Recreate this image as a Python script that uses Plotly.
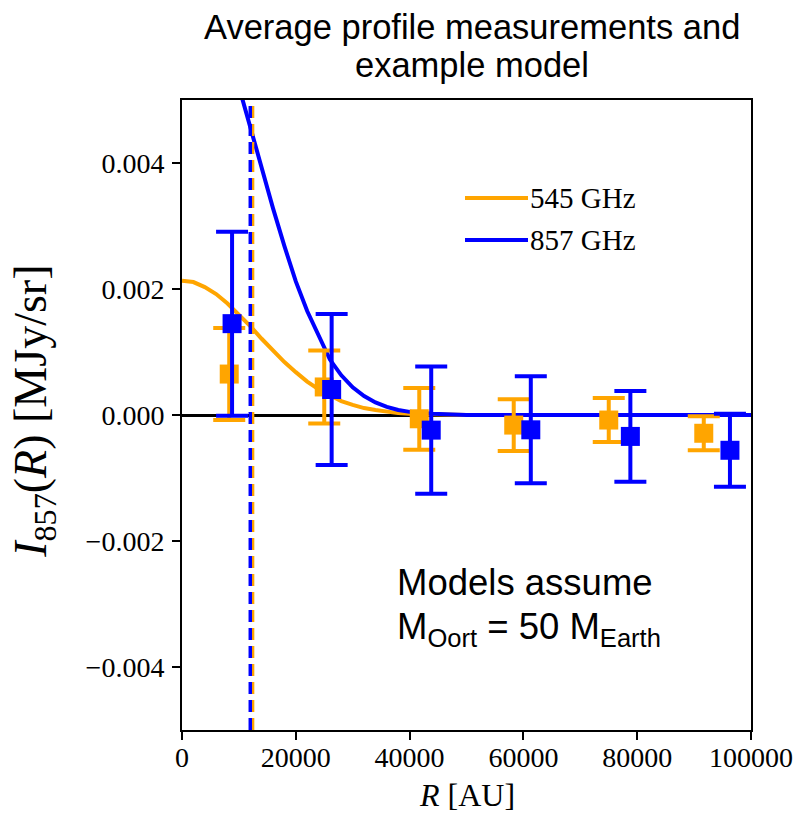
import plotly.graph_objects as go

# ---- data ----
R_545 = [8300, 25000, 41700, 58300, 75000, 91700]
I_545 = [0.00065, 0.000445, -0.00006, -0.00016, -0.00008, -0.00029]
E_545 = [0.00073, 0.00058, 0.00049, 0.00041, 0.00035, 0.00027]

R_857 = [8800, 26300, 43800, 61300, 78800, 96300]
I_857 = [0.00145, 0.000405, -0.00024, -0.000235, -0.00034, -0.00056]
E_857 = [0.00146, 0.00120, 0.00101, 0.00085, 0.00072, 0.00058]

R_model = [0, 2000, 4000, 6000, 8000, 10000, 12000, 14000, 16000, 18000, 20000,
           22000, 24000, 26000, 28000, 30000, 32000, 34000, 36000, 38000, 40000,
           44000, 50000, 100000]
M_545 = [0.00213, 0.00211, 0.00203, 0.00192, 0.00177, 0.00160, 0.00141, 0.00121,
         0.00102, 0.00084, 0.00068, 0.00053, 0.00041, 0.00031, 0.00022, 0.00016,
         0.00011, 0.00008, 0.00005, 0.00003, 0.00002, 0.00001, 0.0, 0.0]
M_857 = [0.00700, 0.00692, 0.00668, 0.00629, 0.00579, 0.00521, 0.00457, 0.00392,
         0.00328, 0.00268, 0.00212, 0.00165, 0.00125, 0.00088, 0.00063, 0.00044,
         0.00030, 0.00020, 0.00013, 0.00008, 0.00005, 0.00002, 0.0, 0.0]

R_vline_545 = 12400
R_vline_857 = 12000
Y_RANGE = [-0.005, 0.005]
X_RANGE = [0, 100000]
x_ticks = [0, 20000, 40000, 60000, 80000, 100000]
y_ticks = [-0.004, -0.002, 0.0, 0.002, 0.004]

ORANGE = "#FFA500"
BLUE = "#0000FF"
SERIF = "Liberation Serif, DejaVu Serif, serif"
SANS = "Liberation Sans, Arial, sans-serif"

fig = go.Figure()

fig.add_trace(go.Scatter(x=R_model, y=M_545, mode="lines",
                         line=dict(color=ORANGE, width=4), name="545 GHz"))
fig.add_trace(go.Scatter(x=R_model, y=M_857, mode="lines",
                         line=dict(color=BLUE, width=4), name="857 GHz"))

fig.add_trace(go.Scatter(x=R_545, y=I_545, mode="markers",
                         marker=dict(symbol="square", size=19, color=ORANGE),
                         error_y=dict(type="data", array=E_545, color=ORANGE,
                                      thickness=4, width=16)))
fig.add_trace(go.Scatter(x=R_857, y=I_857, mode="markers",
                         marker=dict(symbol="square", size=19, color=BLUE),
                         error_y=dict(type="data", array=E_857, color=BLUE,
                                      thickness=4, width=16)))

fig.add_trace(go.Scatter(x=[R_vline_545, R_vline_545], y=Y_RANGE, mode="lines",
                         line=dict(color=ORANGE, width=3.5, dash="12px,6px")))
fig.add_trace(go.Scatter(x=[R_vline_857, R_vline_857], y=Y_RANGE, mode="lines",
                         line=dict(color=BLUE, width=3.5, dash="12px,6px")))

L, R, T, B = 182, 47, 100, 91
W, H = 798, 821
pw, ph = W - L - R, H - T - B


def px(xp):
    return (xp - L) / pw


def py(yp):
    return (H - B - yp) / ph


shapes = [
    dict(type="line", xref="paper", yref="paper", x0=px(465), x1=px(528),
         y0=py(198), y1=py(198), line=dict(color=ORANGE, width=4)),
    dict(type="line", xref="paper", yref="paper", x0=px(465), x1=px(528),
         y0=py(240), y1=py(240), line=dict(color=BLUE, width=4)),
]

annotations = [
    dict(text="545 GHz", xref="paper", yref="paper", x=px(528), y=py(198),
         xanchor="left", yanchor="middle", showarrow=False,
         font=dict(family=SERIF, size=29, color="black")),
    dict(text="857 GHz", xref="paper", yref="paper", x=px(528), y=py(240),
         xanchor="left", yanchor="middle", showarrow=False,
         font=dict(family=SERIF, size=29, color="black")),
    dict(text="Average profile measurements and", xref="paper", yref="paper",
         x=px(472), y=py(27), xanchor="center", yanchor="middle", showarrow=False,
         font=dict(family=SANS, size=34.5, color="black")),
    dict(text="example model", xref="paper", yref="paper",
         x=px(472), y=py(65), xanchor="center", yanchor="middle", showarrow=False,
         font=dict(family=SANS, size=34.5, color="black")),
    dict(text="Models assume", xref="paper", yref="paper",
         x=px(395), y=py(582), xanchor="left", yanchor="middle", showarrow=False,
         font=dict(family=SANS, size=36.5, color="black")),
    dict(text="M<sub>Oort</sub> = 50 M<sub>Earth</sub>", xref="paper", yref="paper",
         x=px(395), y=py(629), xanchor="left", yanchor="middle", showarrow=False,
         font=dict(family=SANS, size=36.5, color="black")),
    dict(text="<i>I</i><sub>857</sub>(<i>R</i>) [MJy/sr]", xref="paper", yref="paper",
         x=px(34), y=0.505, xanchor="center", yanchor="middle", textangle=-90,
         showarrow=False, font=dict(family=SERIF, size=46, color="black")),
    dict(text="<i>R</i> [AU]", xref="paper", yref="paper",
         x=0.5, y=py(795), xanchor="center", yanchor="middle",
         showarrow=False, font=dict(family=SERIF, size=32, color="black")),
]

fig.update_layout(
    width=W, height=H,
    margin=dict(l=L, r=R, t=T, b=B, autoexpand=False),
    paper_bgcolor="white", plot_bgcolor="white",
    showlegend=False,
    shapes=shapes, annotations=annotations,
    xaxis=dict(range=X_RANGE, tickvals=x_ticks, tickformat="d",
               showgrid=False, zeroline=False,
               showline=True, mirror=True, linecolor="black", linewidth=2,
               ticks="outside", ticklen=8, tickwidth=2, tickcolor="black",
               ticklabelstandoff=-7,
               tickfont=dict(family=SERIF, size=28, color="black")),
    yaxis=dict(range=Y_RANGE, tickvals=y_ticks, tickformat=".3f",
               showgrid=False, zeroline=True, zerolinecolor="black", zerolinewidth=3,
               showline=True, mirror=True, linecolor="black", linewidth=2,
               ticks="outside", ticklen=8, tickwidth=2, tickcolor="black",
               ticklabelstandoff=2,
               tickfont=dict(family=SERIF, size=28, color="black")),
)

fig.write_html("out.html")
